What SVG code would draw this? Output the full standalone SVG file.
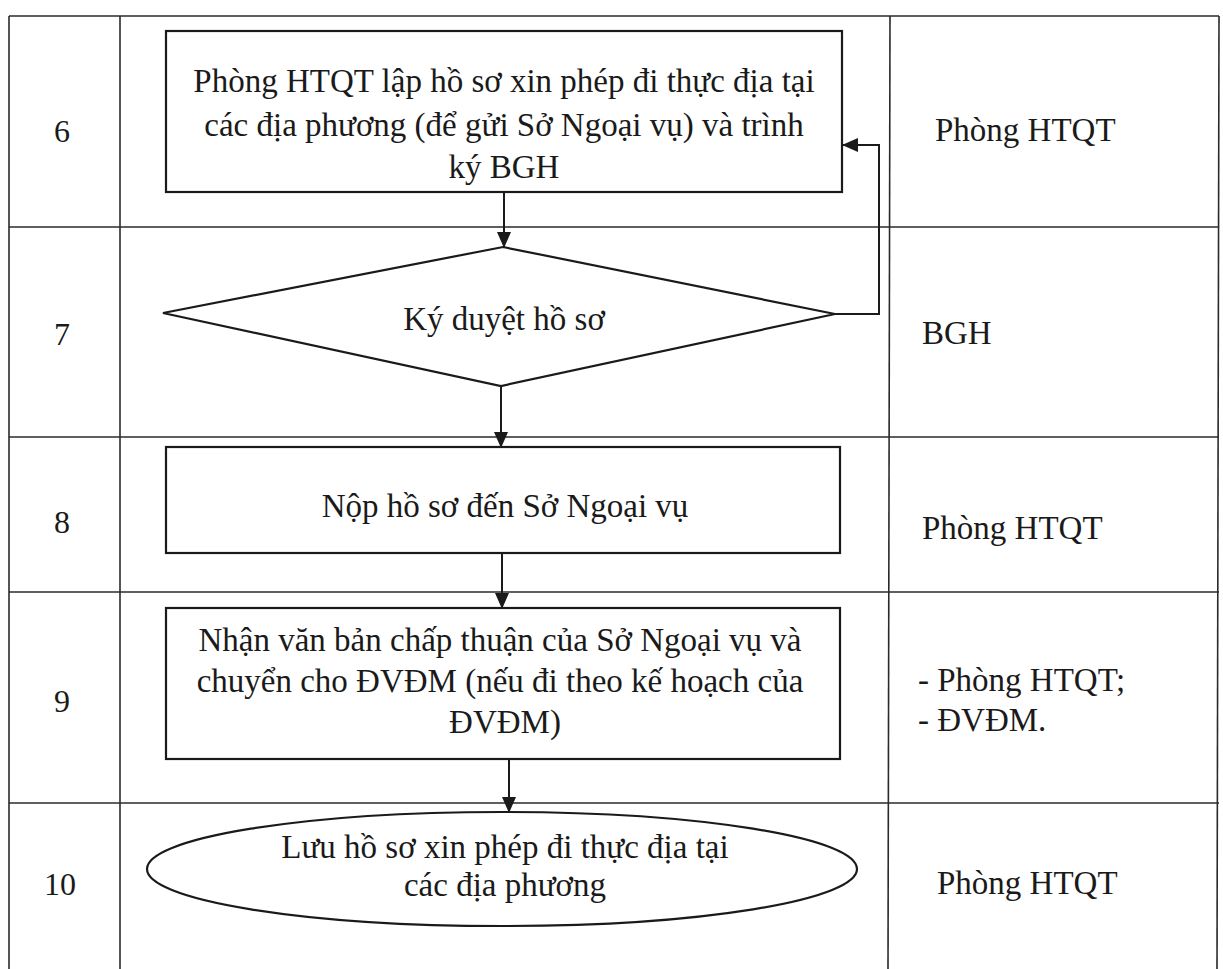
<svg xmlns="http://www.w3.org/2000/svg" width="1223" height="969" viewBox="0 0 1223 969">
<style>
.grid{stroke:#2a2a2a;stroke-width:1.6;fill:none}
.shape{stroke:#1a1a1a;stroke-width:2.2;fill:#fff}
.conn{stroke:#1a1a1a;stroke-width:2;fill:none}
text{font-family:"Liberation Serif","Times New Roman",serif;fill:#1a1a1a;font-size:33px}
.num{font-size:32px;text-anchor:middle}
.c{text-anchor:middle}
</style>
<defs>
<marker id="arr" viewBox="0 0 16 14" refX="15" refY="7" markerWidth="16" markerHeight="14" markerUnits="userSpaceOnUse" orient="auto">
<path d="M0,0 L16,7 L0,14 z" fill="#1a1a1a"/>
</marker>
</defs>
<rect width="1223" height="969" fill="#fff"/>
<g id="table">
<line class="grid" x1="9" y1="16" x2="1219" y2="16"/>
<line class="grid" x1="9" y1="16" x2="9" y2="969"/>
<line class="grid" x1="120" y1="16" x2="120" y2="969"/>
<line class="grid" x1="890" y1="16" x2="888" y2="969"/>
<line class="grid" x1="1219" y1="16" x2="1217" y2="969"/>
<line class="grid" x1="9" y1="227" x2="1219" y2="227"/>
<line class="grid" x1="9" y1="437" x2="1219" y2="437"/>
<line class="grid" x1="9" y1="592" x2="1219" y2="592"/>
<line class="grid" x1="9" y1="803" x2="1219" y2="803"/>
<text class="num" x="62" y="142">6</text>
<text class="num" x="62" y="345">7</text>
<text class="num" x="62" y="533">8</text>
<text class="num" x="62" y="712">9</text>
<text class="num" x="60" y="895">10</text>
<text x="935" y="141">Phòng HTQT</text>
<text x="922" y="344">BGH</text>
<text x="922" y="539">Phòng HTQT</text>
<text x="918" y="691">- Phòng HTQT;</text>
<text x="918" y="731">- ĐVĐM.</text>
<text x="937" y="894">Phòng HTQT</text>
</g>
<g id="connectors">
<line class="conn" x1="504" y1="192" x2="504" y2="247" marker-end="url(#arr)"/>
<line class="conn" x1="501" y1="386" x2="501" y2="447" marker-end="url(#arr)"/>
<line class="conn" x1="502" y1="553" x2="502" y2="608" marker-end="url(#arr)"/>
<line class="conn" x1="509" y1="759" x2="509" y2="812" marker-end="url(#arr)"/>
<polyline class="conn" points="835,314 879,314 879,145 843,145" marker-end="url(#arr)"/>
</g>
<g id="node6">
<rect class="shape" x="166" y="31" width="676" height="161"/>
<text class="c" x="504" y="92" font-size="34">Phòng HTQT lập hồ sơ xin phép đi thực địa tại</text>
<text class="c" x="504" y="136" font-size="34">các địa phương (để gửi Sở Ngoại vụ) và trình</text>
<text class="c" x="504" y="178" font-size="34">ký BGH</text>
</g>
<g id="node7">
<polygon class="shape" points="503,247 835,314 501,386 163,313"/>
<text class="c" x="504" y="330" font-size="38">Ký duyệt hồ sơ</text>
</g>
<g id="node8">
<rect class="shape" x="166" y="447" width="674" height="106"/>
<text class="c" x="505" y="517" font-size="35">Nộp hồ sơ đến Sở Ngoại vụ</text>
</g>
<g id="node9">
<rect class="shape" x="166" y="608" width="674" height="151"/>
<text class="c" x="500" y="651" font-size="34">Nhận văn bản chấp thuận của Sở Ngoại vụ và</text>
<text class="c" x="500" y="692" font-size="34">chuyển cho ĐVĐM (nếu đi theo kế hoạch của</text>
<text class="c" x="505" y="733" font-size="34">ĐVĐM)</text>
</g>
<g id="node10">
<ellipse class="shape" cx="502" cy="869" rx="355" ry="57"/>
<text class="c" x="505" y="858" font-size="34">Lưu hồ sơ xin phép đi thực địa tại</text>
<text class="c" x="505" y="896" font-size="34">các địa phương</text>
</g>
</svg>
